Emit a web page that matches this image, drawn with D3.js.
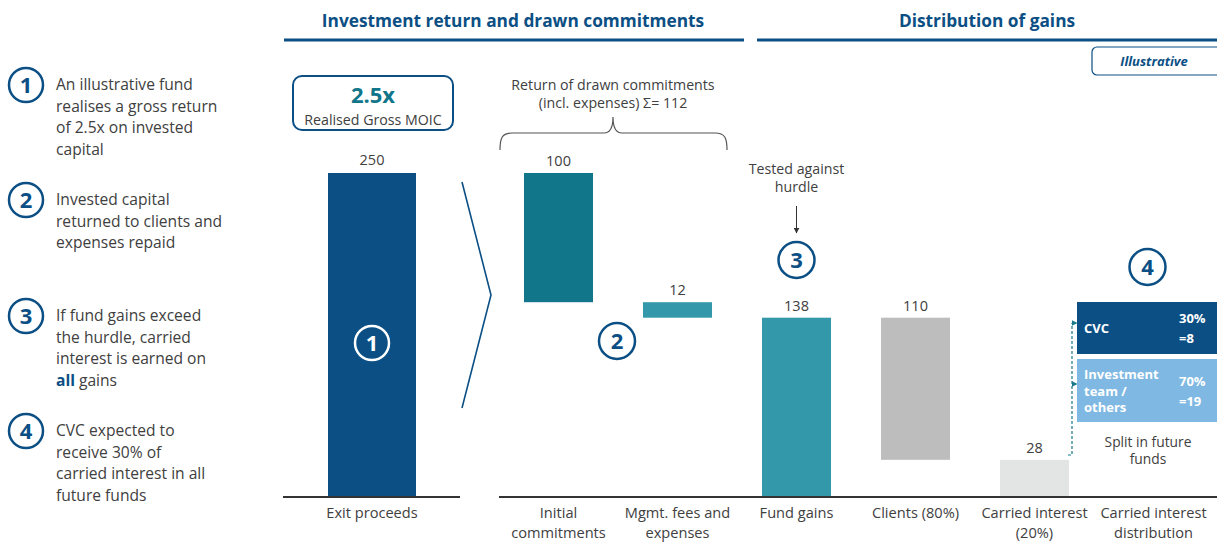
<!DOCTYPE html>
<html><head><meta charset="utf-8">
<script src="https://cdn.jsdelivr.net/npm/d3@7"></script>
<style>
html,body{margin:0;padding:0;background:#fff;}
svg{display:block;font-family:"Open Sans", Lato, sans-serif;}
</style></head>
<body>
<svg id="c" width="1217" height="542"></svg>
<script>
// ---- data ----
const leftCategory = ["Exit proceeds"];
const leftValues = [250];
const categories = ["Initial\ncommitments","Mgmt. fees and\nexpenses","Fund gains","Clients (80%)","Carried interest\n(20%)","Carried interest\ndistribution"];
const barValues = [100, 12, 138, 110, 28];
const barBases  = [150, 138, 0, 28, 0];
const barColors = ["#11768A","#3399AA","#3399AA","#BDBDBD","#E3E5E5"];
const splitNames = ["CVC","Investment\nteam /\nothers"];
const splitPct = ["30%","70%"];
const splitVals = ["=8","=19"];
const notes = [
  [["An illustrative fund"],["realises a gross return"],["of 2.5x on invested"],["capital"]],
  [["Invested capital"],["returned to clients and"],["expenses repaid"]],
  [["If fund gains exceed"],["the hurdle, carried"],["interest is earned on"],["all","gains"]],
  [["CVC expected to"],["receive 30% of"],["carried interest in all"],["future funds"]]
];
const noteY = [85, 200, 316, 431];

const BLUE="#0B4F84", TXT="#404040";
const svg=d3.select("#c");

// scales
const y=d3.scaleLinear().domain([0,250]).range([496,173]);
const xl=d3.scaleBand().domain(leftCategory).range([328,416]).padding(0);
const xr=d3.scaleBand().domain(categories).range([499,1213]).paddingInner(0.42).paddingOuter(0.21);

// headers
function header(txt,cx,x1,x2){
  svg.append("text").attr("x",cx).attr("y",27).attr("text-anchor","middle")
    .attr("font-weight","bold").attr("font-size",17.3).attr("fill",BLUE).text(txt);
  svg.append("line").attr("x1",x1).attr("x2",x2).attr("y1",40).attr("y2",40).attr("stroke",BLUE).attr("stroke-width",3);
}
header("Investment return and drawn commitments",513,284,744);
header("Distribution of gains",987,757,1217);

// Illustrative
svg.append("rect").attr("x",1092).attr("y",47).attr("width",130).attr("height",28).attr("rx",5)
  .attr("fill","none").attr("stroke",BLUE).attr("stroke-width",1.2);
svg.append("text").attr("x",1154).attr("y",66).attr("text-anchor","middle").attr("font-weight","bold")
  .attr("font-style","italic").attr("font-size",13).attr("fill",BLUE).text("Illustrative");

// notes
function circ(cx,cy,num,color,r){
  svg.append("circle").attr("cx",cx).attr("cy",cy).attr("r",r||17).attr("fill","none").attr("stroke",color).attr("stroke-width",2.5);
  svg.append("text").attr("x",cx).attr("y",cy+8).attr("text-anchor","middle").attr("font-weight","bold")
    .attr("font-size",22).attr("fill",color).text(num);
}
notes.forEach((lines,i)=>{
  circ(26,noteY[i],i+1,BLUE);
  lines.forEach((ln,j)=>{
    const t=svg.append("text").attr("x",56).attr("y",noteY[i]+5+j*21.7).attr("font-size",15.6).attr("fill",TXT);
    if(ln.length===2){
      t.append("tspan").attr("font-weight","bold").attr("fill",BLUE).text(ln[0]);
      t.append("tspan").text(" "+ln[1]);
    } else t.text(ln[0]);
  });
});

// MOIC box
svg.append("rect").attr("x",293).attr("y",76).attr("width",160).attr("height",54).attr("rx",9)
  .attr("fill","none").attr("stroke",BLUE).attr("stroke-width",2);
svg.append("text").attr("x",373).attr("y",103).attr("text-anchor","middle").attr("font-weight","bold")
  .attr("font-size",22).attr("fill","#11768A").text("2.5x");
svg.append("text").attr("x",373).attr("y",125).attr("text-anchor","middle").attr("font-size",14.2).attr("fill",TXT).text("Realised Gross MOIC");

// baselines
svg.append("line").attr("x1",283).attr("x2",460).attr("y1",y(0)+1).attr("y2",y(0)+1).attr("stroke","#333").attr("stroke-width",2);
svg.append("line").attr("x1",499).attr("x2",1217).attr("y1",y(0)+1).attr("y2",y(0)+1).attr("stroke","#333").attr("stroke-width",2);

// left bar
svg.selectAll(".lb").data(leftValues).enter().append("rect")
  .attr("x",(d,i)=>xl(leftCategory[i])).attr("width",xl.bandwidth())
  .attr("y",d=>y(d)).attr("height",d=>y(0)-y(d)).attr("fill",BLUE);
svg.selectAll(".lbl").data(leftValues).enter().append("text")
  .attr("x",(d,i)=>xl(leftCategory[i])+xl.bandwidth()/2).attr("y",d=>y(d)-8)
  .attr("text-anchor","middle").attr("font-size",14.5).attr("fill",TXT).text(d=>d);
circ(xl(leftCategory[0])+xl.bandwidth()/2,343,1,"#fff",17);

// right bars
svg.selectAll(".rb").data(barValues).enter().append("rect")
  .attr("x",(d,i)=>xr(categories[i])).attr("width",xr.bandwidth())
  .attr("y",(d,i)=>y(barBases[i]+d)).attr("height",(d,i)=>y(barBases[i])-y(barBases[i]+d))
  .attr("fill",(d,i)=>barColors[i]);
svg.selectAll(".rl").data(barValues).enter().append("text")
  .attr("x",(d,i)=>xr(categories[i])+xr.bandwidth()/2).attr("y",(d,i)=>y(barBases[i]+d)-7)
  .attr("text-anchor","middle").attr("font-size",14.5).attr("fill",TXT).text(d=>d);

// category labels
function catLabel(x,label){
  label.split("\n").forEach((ln,j)=>{
    svg.append("text").attr("x",x).attr("y",518+j*19.5).attr("text-anchor","middle").attr("font-size",14.6).attr("fill",TXT).text(ln);
  });
}
leftCategory.forEach(c=>catLabel(xl(c)+xl.bandwidth()/2,c));
categories.forEach(c=>catLabel(xr(c)+xr.bandwidth()/2,c));

// chevron
svg.append("path").attr("d","M462,182 L491,295 L462,408").attr("fill","none").attr("stroke",BLUE).attr("stroke-width",1.6);

// brace
svg.append("path").attr("d","M500,150 C500,138 502,133 512,133 L604,133 C610,133 613,127 613,117 C613,127 616,133 622,133 L715,133 C725,133 727,138 727,150")
  .attr("fill","none").attr("stroke","#555").attr("stroke-width",1.2);
svg.append("text").attr("x",613).attr("y",90).attr("text-anchor","middle").attr("font-size",14.2).attr("fill",TXT).text("Return of drawn commitments");
svg.append("text").attr("x",613).attr("y",108).attr("text-anchor","middle").attr("font-size",14.2).attr("fill",TXT).text("(incl. expenses) \u03A3= 112");

// circle 2
circ(617,341,2,BLUE,18);

// tested against hurdle
const fgx=xr(categories[2])+xr.bandwidth()/2;
svg.append("text").attr("x",fgx).attr("y",174).attr("text-anchor","middle").attr("font-size",14.2).attr("fill",TXT).text("Tested against");
svg.append("text").attr("x",fgx).attr("y",192).attr("text-anchor","middle").attr("font-size",14.2).attr("fill",TXT).text("hurdle");
svg.append("defs").html('<marker id="ah" viewBox="0 0 10 10" refX="9" refY="5" markerWidth="6" markerHeight="6" orient="auto"><path d="M0,0 L10,5 L0,10 z" fill="#333"/></marker><marker id="at" viewBox="0 0 10 10" refX="9" refY="5" markerWidth="5" markerHeight="5" orient="auto"><path d="M0,0 L10,5 L0,10 z" fill="#1A7A8A"/></marker>');
svg.append("line").attr("x1",fgx).attr("x2",fgx).attr("y1",206).attr("y2",233).attr("stroke","#333").attr("stroke-width",1).attr("marker-end","url(#ah)");
circ(fgx,260,3,BLUE,18);

// distribution
const dx=xr(categories[5])+xr.bandwidth()/2;
circ(dx-6,267,4,BLUE,18);
const boxes=[{y:302,h:52,c:BLUE},{y:359,h:63,c:"#7FB8E2"}];
boxes.forEach((b,i)=>{
  svg.append("rect").attr("x",1077).attr("y",b.y).attr("width",140).attr("height",b.h).attr("fill",b.c);
  const nl=splitNames[i].split("\n");
  const y0=b.y+b.h/2-(nl.length-1)*8.3+5;
  nl.forEach((ln,j)=>svg.append("text").attr("x",1084).attr("y",y0+j*16.6).attr("font-weight","bold").attr("font-size",13).attr("fill","#fff").text(ln));
  svg.append("text").attr("x",1179).attr("y",b.y+b.h/2-5).attr("font-weight","bold").attr("font-size",13).attr("fill","#fff").text(splitPct[i]);
  svg.append("text").attr("x",1179).attr("y",b.y+b.h/2+15).attr("font-weight","bold").attr("font-size",13).attr("fill","#fff").text(splitVals[i]);
});
svg.append("text").attr("x",1148).attr("y",447).attr("text-anchor","middle").attr("font-size",13.8).attr("fill",TXT).text("Split in future");
svg.append("text").attr("x",1148).attr("y",464).attr("text-anchor","middle").attr("font-size",13.8).attr("fill",TXT).text("funds");
// dashed connector
const dash=svg.append("g").attr("stroke","#1A7A8A").attr("stroke-width",1.2).attr("fill","none").attr("stroke-dasharray","3,2");
dash.append("path").attr("d","M1068,455 L1072,455 L1072,323");
dash.append("line").attr("x1",1072).attr("x2",1077).attr("y1",323).attr("y2",323).attr("stroke-dasharray",null).attr("marker-end","url(#at)");
dash.append("line").attr("x1",1072).attr("x2",1077).attr("y1",384).attr("y2",384).attr("stroke-dasharray",null).attr("marker-end","url(#at)");
</script>
</body></html>
